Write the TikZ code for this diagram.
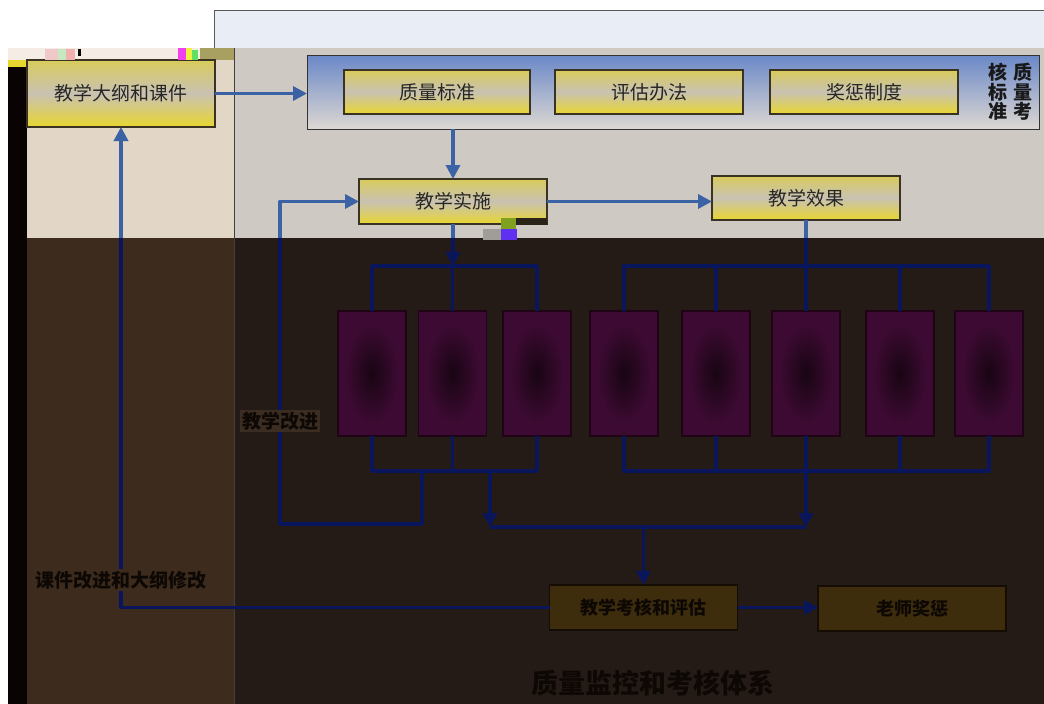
\documentclass[tikz,border=0pt]{standalone}
\usepackage{fontspec}
\setmainfont{Noto Sans CJK SC}
\usetikzlibrary{arrows.meta}
\definecolor{lightblue}{HTML}{E8EDF6}
\definecolor{beigeTop}{HTML}{E2D6C6}
\definecolor{grayTop}{HTML}{CFC9C3}
\definecolor{leftDark}{HTML}{3D2C1E}
\definecolor{rightDark}{HTML}{251B16}
\definecolor{barBlack}{HTML}{0A0303}
\definecolor{yelA}{HTML}{D8CB5C}
\definecolor{yelMid}{HTML}{C9C2B2}
\definecolor{yelB}{HTML}{E8D630}
\definecolor{yBorder}{HTML}{3A3222}
\definecolor{panelTop}{HTML}{6A88C8}
\definecolor{panelBot}{HTML}{DDD8D2}
\definecolor{lineUp}{HTML}{3A62A4}
\definecolor{lineDown}{HTML}{0A165C}
\definecolor{purpEdge}{HTML}{3C0A32}
\definecolor{purpCore}{HTML}{180512}
\definecolor{purpBorder}{HTML}{1E0414}
\definecolor{brownBox}{HTML}{3E2D0C}
\definecolor{brownBorder}{HTML}{150C04}
\definecolor{darkText}{HTML}{0E0805}
\definecolor{labelBg}{HTML}{3B2D21}
\definecolor{stripTop}{HTML}{F6ECE6}
\definecolor{olive}{HTML}{A8A060}
\definecolor{artA}{HTML}{F0C8C8}
\definecolor{artB}{HTML}{C8E8C0}
\definecolor{artC}{HTML}{F0B0B0}
\definecolor{artD}{HTML}{F040F0}
\definecolor{artE}{HTML}{F0F040}
\definecolor{artF}{HTML}{60E060}
\definecolor{artG}{HTML}{80A020}
\definecolor{artH}{HTML}{6030F0}
\definecolor{artI}{HTML}{A09C98}
\definecolor{artJ}{HTML}{2A2418}
\begin{document}
\begin{tikzpicture}[x=1pt,y=-1pt,
  ybox/.style={draw=yBorder, line width=1.2pt, top color=yelA, bottom color=yelB, middle color=yelMid,
    inner sep=0pt, outer sep=0pt, font=\fontsize{19}{21}\selectfont, text=black!85},
  pbox/.style={draw=purpBorder, line width=1.2pt, fill=purpEdge, minimum width=68pt, minimum height=125pt,
    inner sep=0pt, outer sep=0pt},
  bbox/.style={draw=brownBorder, line width=1.2pt, fill=brownBox, minimum width=188pt, minimum height=45pt,
    inner sep=0pt, outer sep=0pt, font=\bfseries\fontsize{18}{20}\selectfont, text=darkText},
  conn/.style={draw=lc, line width=3.4pt, line join=round},
  arr/.style={conn, -{Triangle[length=14pt,width=14pt]}},
  darklabel/.style={inner sep=2pt, font=\bfseries\fontsize{19}{21}\selectfont, text=darkText}
]
\useasboundingbox (0,0) rectangle (1044,704);
% ---------- backgrounds ----------
\fill[white] (0,0) rectangle (1044,704);
\filldraw[fill=lightblue, draw=black!65, line width=0.8pt] (1046,10) -- (214,10) -- (214,48) -- (1046,48);
\fill[grayTop] (234,48) rectangle (1044,238);
\fill[beigeTop] (27,60) rectangle (234,238);
\fill[stripTop] (8,48) rectangle (215,60);
\fill[olive] (200,48) rectangle (234,60);
\fill[leftDark] (27,238) rectangle (234,704);
\fill[rightDark] (234,238) rectangle (1044,704);
\fill[yelB] (8,60) rectangle (27,67);
\fill[barBlack] (8,67) rectangle (27,704);
\draw[black!75, line width=1pt] (234,48) -- (234,704);
% ---------- top nodes ----------
\node[ybox, minimum width=188pt, minimum height=67pt] (dagang) at (121,93.5) {教学大纲和课件};
\node[draw=black!80, line width=1pt, top color=panelTop, bottom color=panelBot,
      minimum width=732pt, minimum height=74pt, inner sep=0pt, outer sep=0pt] (panel) at (673,92) {};
\node[ybox, minimum width=186pt, minimum height=44pt] (zlbz) at (437,92) {质量标准};
\node[ybox, minimum width=188pt, minimum height=44pt] (pgbf) at (649,92) {评估办法};
\node[ybox, minimum width=188pt, minimum height=44pt] (jczd) at (864,92) {奖惩制度};
\node[align=center, inner sep=0pt, font=\bfseries\fontsize{19}{19.5}\selectfont, text=black!90] (colR) at (1023,92) {质\\量\\考};
\node[align=center, inner sep=0pt, font=\bfseries\fontsize{19}{19.5}\selectfont, text=black!90] (colL) at (998,92) {核\\标\\准};
\node[ybox, minimum width=188pt, minimum height=45pt] (sishi) at (453,201.5) {教学实施};
\node[ybox, minimum width=188pt, minimum height=44pt] (xiaoguo) at (806,198) {教学效果};
% ---------- purple boxes ----------
\foreach \n/\x in {b1/372,b2/452.5,b3/537,b4/624,b5/716,b6/806,b7/900,b8/989}{
  \node[pbox] (\n) at (\x,373.5) {};
  \shade[inner color=purpCore, outer color=purpEdge] ([xshift=8pt,yshift=-14pt]\n.north west) rectangle ([xshift=-8pt,yshift=14pt]\n.south east);
}
% ---------- lower nodes ----------
\node[bbox] (kaohe) at (643.5,607.5) {教学考核和评估};
\node[bbox] (jiangcheng) at (912,608.5) {老师奖惩};
% ---------- coordinates ----------
\coordinate (j1) at (453,266);
\coordinate (j2) at (806,266);
\coordinate (k) at (0,471);
\coordinate (fbA) at (422,471);
\coordinate (fbB) at (280,524);
\coordinate (mA) at (490,471);
\coordinate (mB) at (806,471);
\coordinate (bb) at (0,527);
% ---------- connectors ----------
\newcommand\drawconns{%
  \draw[arr] (dagang.east) -- (dagang.east -| panel.west);
  \draw[arr] (panel.south -| sishi.north) -- (sishi.north);
  \draw[arr] (sishi.east) -- (sishi.east -| xiaoguo.west);
  \draw[arr] (sishi.south) -- (j1);
  \draw[conn] (xiaoguo.south) -- (j2);
  \draw[conn] (b1.north) -- (b1.north |- j1) -- (b3.north |- j1) -- (b3.north);
  \draw[conn] (b2.north) -- (b2.north |- j1);
  \draw[conn] (b4.north) -- (b4.north |- j2) -- (b8.north |- j2) -- (b8.north);
  \draw[conn] (b5.north) -- (b5.north |- j2);
  \draw[conn] (b6.north) -- (b6.north |- j2);
  \draw[conn] (b7.north) -- (b7.north |- j2);
  \draw[conn] (b1.south) -- (b1.south |- k) -- (b3.south |- k) -- (b3.south);
  \draw[conn] (b2.south) -- (b2.south |- k);
  \draw[conn] (b4.south) -- (b4.south |- k) -- (b8.south |- k) -- (b8.south);
  \draw[conn] (b5.south) -- (b5.south |- k);
  \draw[conn] (b6.south) -- (b6.south |- k);
  \draw[conn] (b7.south) -- (b7.south |- k);
  \draw[arr] (fbA) |- (fbB) |- (sishi.west);
  \draw[arr] (mA) -- (mA |- bb);
  \draw[arr] (mB) -- (mB |- bb);
  \draw[conn] (mA |- bb) -- (mB |- bb);
  \draw[arr] (kaohe.north |- bb) -- (kaohe.north);
  \draw[arr] (kaohe.east) -- (kaohe.east -| jiangcheng.west);
  \draw[arr] (kaohe.west) -| (dagang.south);
}
\begin{scope}
  \clip (0,0) rectangle (1044,238);
  \colorlet{lc}{lineUp}
  \drawconns
\end{scope}
\begin{scope}
  \clip (0,238) rectangle (1044,704);
  \colorlet{lc}{lineDown}
  \drawconns
\end{scope}
% ---------- labels ----------
\node[darklabel, fill=labelBg] (gaijin) at (280,421) {教学改进};
\node[darklabel, fill=leftDark] (kjgj) at (121,580) {课件改进和大纲修改};
\node[inner sep=0pt, font=\bfseries\fontsize{27}{29}\selectfont, text=darkText] (title) at (653,683) {质量监控和考核体系};
% ---------- small artefacts ----------
\fill[artA] (45,49) rectangle (58,60);
\fill[artB] (58,49) rectangle (66,60);
\fill[artC] (66,49) rectangle (75,60);
\fill[black] (78,49) rectangle (81,56);
\fill[artD] (178,48) rectangle (186,60);
\fill[artE] (186,48) rectangle (192,60);
\fill[artF] (192,50) rectangle (198,60);
\fill[artG] (501,218) rectangle (516,229);
\fill[artH] (501,229) rectangle (517,240);
\fill[artI] (483,229) rectangle (501,240);
\fill[artJ] (516,218) rectangle (547,225);
\end{tikzpicture}
\end{document}
